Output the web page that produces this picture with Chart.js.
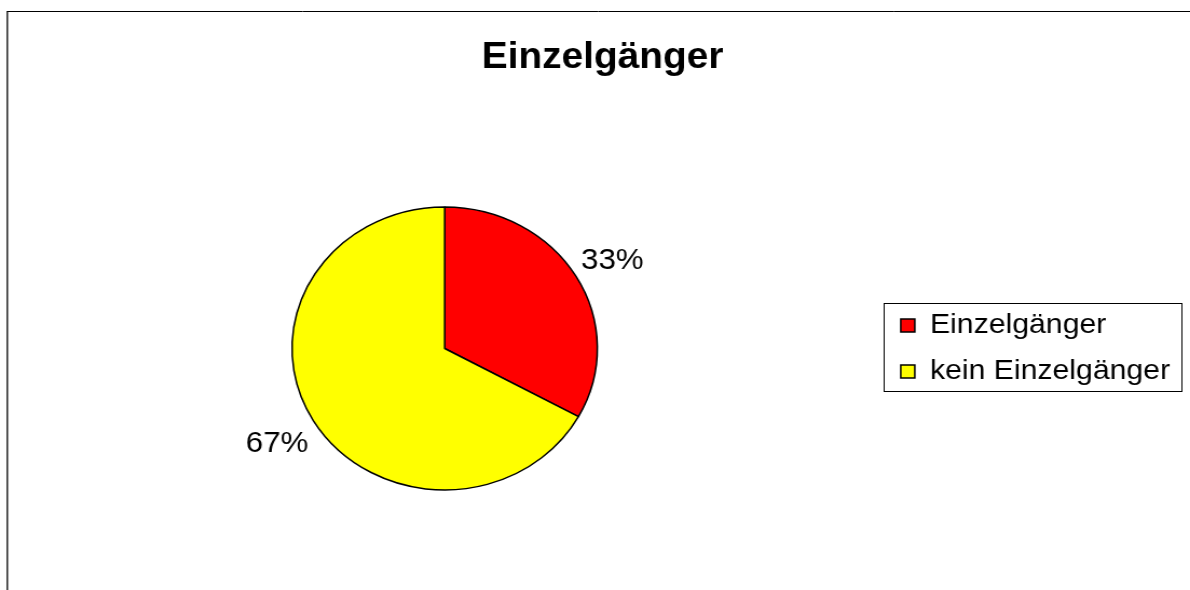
<!DOCTYPE html>
<html>
<head>
<meta charset="utf-8">
<title>Einzelgänger</title>
<script src="https://cdn.jsdelivr.net/npm/chart.js@4/dist/chart.umd.min.js"></script>
<style>
  html, body { margin: 0; padding: 0; background: #fff; overflow: hidden; }
  /* the whole chart is drawn slightly wider than tall, so the pie comes out as an ellipse */
  #wrap { width: 1103px; height: 590px; transform: scaleX(1.0789); transform-origin: 0 0; }
</style>
</head>
<body>
<div id="wrap"><canvas id="pie"></canvas></div>
<script>
const chartTitle = 'Einzelgänger';
const categories = ['Einzelgänger', 'kein Einzelgänger'];
const shares = [33, 67];
const sliceColors = ['#ff0000', '#ffff00'];

Chart.defaults.font.family = '"Liberation Sans", Arial, sans-serif';
Chart.defaults.color = '#000';

// thin frame along the top and left edge of the chart area
const framePlugin = {
    id: 'frame',
    beforeDraw(chart) {
        const ctx = chart.ctx;
        ctx.save();
        ctx.strokeStyle = '#000';
        ctx.lineWidth = 1.3;
        ctx.beginPath();
        ctx.moveTo(6.8, chart.height);
        ctx.lineTo(6.8, 11.5);
        ctx.stroke();
        ctx.lineWidth = 1;
        ctx.beginPath();
        ctx.moveTo(6.2, 11.5);
        ctx.lineTo(chart.width, 11.5);
        ctx.stroke();
        ctx.restore();
    }
};

// nudge the title a little to the right
const titleShift = {
    id: 'titleShift',
    afterLayout(chart) {
        if (chart.titleBlock) chart.titleBlock.left += 15;
    }
};

// percentage labels just outside each slice
const sliceLabels = {
    id: 'sliceLabels',
    afterDatasetsDraw(chart) {
        const ctx = chart.ctx;
        const meta = chart.getDatasetMeta(0);
        ctx.save();
        ctx.font = '29px "Liberation Sans", Arial, sans-serif';
        ctx.fillStyle = '#000';
        ctx.textAlign = 'center';
        ctx.textBaseline = 'middle';
        meta.data.forEach((arc, i) => {
            const p = arc.getProps(['x', 'y', 'startAngle', 'endAngle', 'outerRadius'], true);
            const mid = (p.startAngle + p.endAngle) / 2;
            const r = p.outerRadius + 39;
            ctx.fillText(shares[i] + '%', p.x + Math.cos(mid) * r, p.y + Math.sin(mid) * r + 4);
        });
        ctx.restore();
    }
};

// box around the legend entries
const legendBorder = {
    id: 'legendBorder',
    afterDraw(chart) {
        const lg = chart.legend;
        const boxes = lg.legendHitBoxes;
        if (!boxes || !boxes.length) return;
        const last = boxes[boxes.length - 1];
        const top = boxes[0].top - 9;
        const bottom = last.top + last.height + 5;
        const ctx = chart.ctx;
        ctx.save();
        ctx.strokeStyle = '#000';
        ctx.lineWidth = 1;
        ctx.strokeRect(Math.round(lg.left + 2) + 0.5, Math.round(top) + 0.5,
            Math.round(lg.right - lg.left - 2), Math.round(bottom - top));
        ctx.restore();
    }
};

new Chart(document.getElementById('pie'), {
    type: 'pie',
    data: {
        labels: categories,
        datasets: [{
            data: shares,
            backgroundColor: sliceColors,
            borderColor: '#000',
            borderWidth: 1.5,
            radius: 141.5
        }]
    },
    options: {
        responsive: true,
        maintainAspectRatio: false,
        animation: false,
        layout: { padding: { left: 7.4, right: 8.5, top: 0, bottom: 0 } },
        plugins: {
            title: {
                display: true,
                text: chartTitle,
                color: '#000',
                font: { size: 36, weight: 'bold' },
                padding: { top: 36, bottom: 27.8 }
            },
            legend: {
                position: 'right',
                fullSize: false,
                labels: {
                    color: '#000',
                    font: { size: 28 },
                    boxWidth: 13,
                    boxHeight: 13,
                    padding: 18
                }
            },
            tooltip: { enabled: false }
        }
    },
    plugins: [framePlugin, titleShift, sliceLabels, legendBorder]
});
</script>
</body>
</html>
